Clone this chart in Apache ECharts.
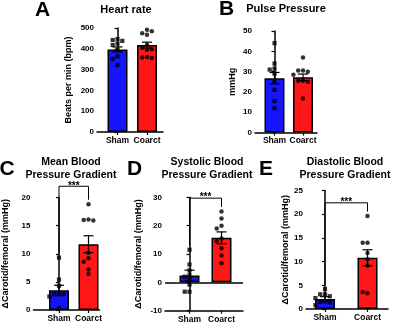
<!DOCTYPE html>
<html>
<head>
<meta charset="utf-8">
<script src="https://cdn.jsdelivr.net/npm/echarts@6.0.0/dist/echarts.min.js"></script>
<style>
  html, body { margin: 0; padding: 0; background: #fff; }
  #main { width: 400px; height: 326px; }
</style>
</head>
<body>
<div id="main"></div>
<script>
var groups = ['Sham', 'Coarct'];

// A - heart rate (bpm)
var hrSham = [447, 442, 438, 425, 418, 396, 364, 351, 322];
var hrCoarct = [492, 475, 468, 484, 420, 405, 396, 398, 360, 358, 356];
var hrMean = [397, 418];
var hrSem = [12, 14];

// B - pulse pressure (mmHg)
var ppSham = [44, 34, 31.5, 31, 29, 25, 21, 15.5, 12];
var ppCoarct = [37, 30.5, 30.5, 30, 28.5, 25.5, 25.5, 25, 16.8];
var ppMean = [26.8, 27.2];
var ppSem = [2.8, 1.6];

// C - mean BP gradient
var mbpSham = [9.3, 5.4, 4.3, 2.8, 2.8, 2.8, 2.4, 0.3];
var mbpCoarct = [18.8, 16.1, 16.0, 15.9, 10.2, 9.2, 8.6, 7.2, 6.4];
var mbpMean = [3.5, 11.7];
var mbpSem = [0.9, 1.5];

// D - systolic BP gradient
var sbpSham = [11.5, 6.3, 4.2, 2.5, 2.0, 1.0, -0.8, -3.3, -3.3];
var sbpCoarct = [25, 22.5, 20, 19, 15.5, 14.5, 12, 9.5, 6.7];
var sbpMean = [2.4, 15.7];
var sbpSem = [1.9, 2.1];

// E - diastolic BP gradient
var dbpSham = [4.2, 3.1, 3.1, 2.7, 2.3, 1.6, 1.5, 1.4, 0.8];
var dbpCoarct = [19.6, 14.0, 14.0, 11.8, 10.5, 9.2, 3.3, 3.6];
var dbpMean = [2.1, 10.8];
var dbpSem = [0.5, 1.7];

// significance bracket heights (C, D, E)
var sigTop = [22, 29.7, 22.4];

var FONT = 'Liberation Sans, Arial, sans-serif';
var BLUE = '#1414ff';
var RED = '#ff1616';

var panels = [
  { sham: hrSham, coarct: hrCoarct, mean: hrMean, sem: hrSem, min: 0, max: 500, interval: 100,
    yName: 'Beats per min (bpm)', nameGap: 24,
    left: 97, top: 28, width: 66, height: 104, xmin: -0.695, xmax: 1.542, sig: null },
  { sham: ppSham, coarct: ppCoarct, mean: ppMean, sem: ppSem, min: 0, max: 50, interval: 10,
    yName: 'mmHg', nameGap: 18,
    left: 255, top: 31, width: 62, height: 101.6, xmin: -0.684, xmax: 1.491, sig: null },
  { sham: mbpSham, coarct: mbpCoarct, mean: mbpMean, sem: mbpSem, min: 0, max: 20, interval: 5,
    yName: '\u0394Carotid/femoral (mmHg)', nameGap: 23,
    left: 33.5, top: 197.5, width: 66, height: 112.5, xmin: -0.864, xmax: 1.373, sig: sigTop[0] },
  { sham: sbpSham, coarct: sbpCoarct, mean: sbpMean, sem: sbpSem, min: -10, max: 30, interval: 10,
    yName: '\u0394Carotid/femoral (mmHg)', nameGap: 22, zeroLine: true,
    left: 165, top: 197.3, width: 78, height: 113.4, xmin: -0.766, xmax: 1.672, sig: sigTop[1] },
  { sham: dbpSham, coarct: dbpCoarct, mean: dbpMean, sem: dbpSem, min: 0, max: 25, interval: 5,
    yName: '\u0394Carotid/femoral (mmHg)', nameGap: 14,
    left: 306, top: 190.5, width: 82, height: 118.5, xmin: -0.447, xmax: 1.482, sig: sigTop[2] }
];

// simple beeswarm: spread points that would overlap into a row
function swarm(vals, center, dx, pxPerY) {
  var placed = [];
  return vals.map(function (v) {
    var k = 0, off;
    for (;;) {
      var step = Math.ceil(k / 2) * (k % 2 ? -1 : 1);
      off = step * dx;
      var hit = placed.some(function (p) {
        return Math.abs(p.v - v) * pxPerY < 4.2 && Math.abs(p.o - off) < dx * 0.9;
      });
      if (!hit) break;
      k++;
    }
    placed.push({ v: v, o: off });
    return [center + off, v];
  });
}

function renderErr(params, api) {
  var x = api.value(0);
  var lo = api.coord([x, api.value(1)]);
  var hi = api.coord([x, api.value(2)]);
  var c = 5;
  var st = { stroke: '#000', lineWidth: 1.2 };
  return { type: 'group', children: [
    { type: 'line', shape: { x1: lo[0], y1: lo[1], x2: hi[0], y2: hi[1] }, style: st },
    { type: 'line', shape: { x1: hi[0] - c, y1: hi[1], x2: hi[0] + c, y2: hi[1] }, style: st },
    { type: 'line', shape: { x1: lo[0] - c, y1: lo[1], x2: lo[0] + c, y2: lo[1] }, style: st }
  ] };
}

function renderSig(params, api) {
  var top = api.value(2);
  var a = api.coord([api.value(0), top]);
  var b = api.coord([api.value(1), top]);
  var aEnd = api.coord([api.value(0), api.value(3)]);
  var bEnd = api.coord([api.value(1), api.value(4)]);
  return { type: 'group', children: [
    { type: 'polyline', shape: { points: [[a[0], aEnd[1]], a, b, [b[0], bEnd[1]]] },
      style: { stroke: '#000', lineWidth: 1, fill: null } },
    { type: 'text', x: (a[0] + b[0]) / 2, y: a[1] - 0.5,
      style: { text: '***', font: 'bold 10px ' + FONT, fill: '#000', align: 'center', verticalAlign: 'middle' } }
  ] };
}

var grids = [], xAxes = [], yAxes = [], series = [];
panels.forEach(function (p, i) {
  grids.push({ left: p.left, top: p.top, width: p.width, height: p.height });
  xAxes.push({
    type: 'value', gridIndex: i, min: p.xmin, max: p.xmax,
    axisLine: { show: true, onZero: false, lineStyle: { color: '#000', width: 1.5 } },
    axisTick: { show: true, customValues: [0, 1], length: 3, lineStyle: { color: '#000', width: 1.2 } },
    axisLabel: { customValues: [0, 1], margin: 4, color: '#000', fontSize: 8.5, fontWeight: 'bold', fontFamily: FONT,
      formatter: function (v) { return groups[Math.round(v)]; } },
    splitLine: { show: false }
  });
  yAxes.push({
    type: 'value', gridIndex: i, min: p.min, max: p.max, interval: p.interval,
    name: p.yName, nameLocation: 'middle', nameGap: p.nameGap,
    nameTextStyle: { color: '#000', fontSize: 9, fontWeight: 'bold', fontFamily: FONT },
    axisLine: { show: true, lineStyle: { color: '#000', width: 1.5 } },
    axisTick: { show: true, length: 3, lineStyle: { color: '#000', width: 1.2 } },
    axisLabel: { margin: 3, color: '#000', fontSize: 8, fontWeight: 'bold', fontFamily: FONT },
    splitLine: { show: false }
  });

  var pxPerX = p.width / (p.xmax - p.xmin);
  var pxPerY = p.height / (p.max - p.min);
  var dx = 4.8 / pxPerX;

  var bar = {
    type: 'bar', xAxisIndex: i, yAxisIndex: i, barWidth: 20, silent: true, z: 2,
    itemStyle: { borderColor: '#000', borderWidth: 1.5 },
    data: [
      { value: [0, p.mean[0]], itemStyle: { color: BLUE } },
      { value: [1, p.mean[1]], itemStyle: { color: RED } }
    ]
  };
  if (p.zeroLine) {
    bar.markLine = { symbol: 'none', silent: true, label: { show: false },
      lineStyle: { color: '#000', type: 'solid', width: 1.5 }, data: [{ yAxis: 0 }] };
  }
  series.push(bar);

  series.push({
    type: 'custom', xAxisIndex: i, yAxisIndex: i, z: 3, renderItem: renderErr,
    encode: { x: 0, y: [1, 2] },
    data: [0, 1].map(function (g) { return [g, p.mean[g] - p.sem[g], p.mean[g] + p.sem[g]]; })
  });

  series.push({
    type: 'scatter', xAxisIndex: i, yAxisIndex: i, z: 4, symbol: 'rect', symbolSize: 4.2,
    itemStyle: { color: '#000' }, data: swarm(p.sham, 0, dx, pxPerY)
  });
  series.push({
    type: 'scatter', xAxisIndex: i, yAxisIndex: i, z: 4, symbol: 'circle', symbolSize: 4.5,
    itemStyle: { color: '#000' }, data: swarm(p.coarct, 1, dx, pxPerY)
  });

  if (p.sig !== null) {
    var padA = 4.5 / pxPerY;
    series.push({
      type: 'custom', xAxisIndex: i, yAxisIndex: i, z: 5, clip: false, renderItem: renderSig,
      encode: { x: [0, 1], y: 2 },
      data: [[0, 1, p.sig, Math.max.apply(null, p.sham) + padA, Math.max.apply(null, p.coarct) + padA]]
    });
  }
});

function txt(x, y, s, size) {
  return { type: 'text', x: x, y: y,
    style: { text: s, font: 'bold ' + size + 'px ' + FONT, fill: '#000', align: 'center', verticalAlign: 'middle' } };
}

var graphics = [
  txt(42.5, 10, 'A', 21), txt(126, 9.5, 'Heart rate', 11),
  txt(226.5, 9.5, 'B', 21), txt(286, 9, 'Pulse Pressure', 11),
  txt(7, 169, 'C', 21), txt(71, 162, 'Mean Blood', 10.5), txt(71, 175.5, 'Pressure Gradient', 10.5),
  txt(134.5, 169, 'D', 21), txt(207, 162, 'Systolic Blood', 10.5), txt(207, 175.5, 'Pressure Gradient', 10.5),
  txt(266, 169, 'E', 21), txt(345, 162, 'Diastolic Blood', 10.5), txt(345, 175.5, 'Pressure Gradient', 10.5)
];

var myChart = echarts.init(document.getElementById('main'));
myChart.setOption({
  animation: false,
  backgroundColor: '#fff',
  grid: grids,
  xAxis: xAxes,
  yAxis: yAxes,
  series: series,
  graphic: graphics
});
</script>
</body>
</html>
